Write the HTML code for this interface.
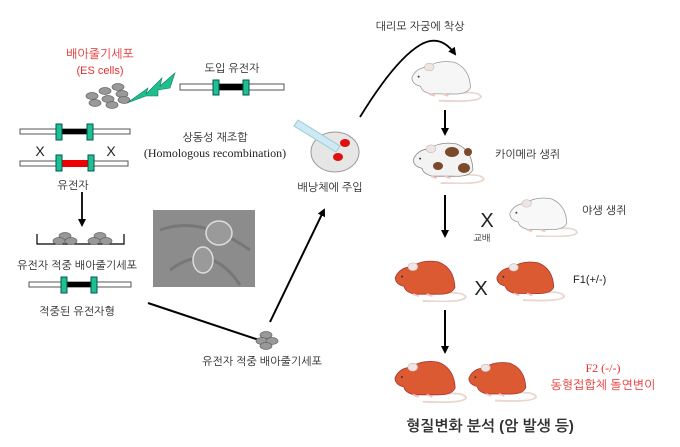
<!DOCTYPE html>
<html><head><meta charset="utf-8"><style>
html,body{margin:0;padding:0;background:#fff}
svg{display:block}
text{font-family:"Liberation Sans","NanumGothic","Noto Sans CJK KR",sans-serif;font-size:11px;fill:#222}
</style></head><body>
<svg width="680" height="447" viewBox="0 0 680 447" xmlns="http://www.w3.org/2000/svg">
<defs>
<marker id="ah" markerWidth="8" markerHeight="8" refX="6" refY="4" orient="auto" markerUnits="userSpaceOnUse"><path d="M0,0 L8,4 L0,8 Z" fill="#000"/></marker>
<g id="cl"><ellipse cx="0" cy="0" rx="6" ry="3.5" fill="#999" stroke="#666" stroke-width="0.7"/></g>
<symbol id="mouse" viewBox="0 0 75 45">
<path d="M40,37 Q72,33 74,40 Q72,46 30,44" fill="none" stroke="#e9d6cf" stroke-width="2"/>
<path d="M2,20 Q6,10 18,9 Q30,1 46,4 Q62,10 63,30 Q60,38 42,37 L22,37 Q12,35 11,29 Q2,27 2,20 Z" fill="var(--c)" stroke="var(--s)" stroke-width="0.8"/>
<ellipse cx="20" cy="9" rx="5" ry="4" fill="#f2e4e0" stroke="#bbb" stroke-width="0.6"/>
<circle cx="9" cy="19" r="1" fill="#333"/>
<path d="M20,37 l6,2 M34,37 l6,2" stroke="#f0c8c0" stroke-width="2"/>
</symbol>
</defs>

<text x="100" y="58" text-anchor="middle" style="fill:#e53030;font-size:12px">배아줄기세포</text>
<text x="100" y="74" text-anchor="middle" style="fill:#e53030">(ES cells)</text>
<g>
<use href="#cl" x="118" y="87"/><use href="#cl" x="105" y="91"/><use href="#cl" x="122" y="94"/>
<use href="#cl" x="92" y="96"/><use href="#cl" x="108" y="99"/><use href="#cl" x="124" y="100"/>
<use href="#cl" x="95" y="103"/><use href="#cl" x="112" y="105"/>
</g>
<path d="M127,103 L148,88 L146,94 L162,78 L160,86 L175,73 L170,88 L158,90 L158,96 L146,96 Z" fill="#1fbf8f" stroke="#0a7a5a" stroke-width="0.6"/>
<text x="232" y="72" text-anchor="middle">도입 유전자</text>
<rect x="180" y="84" width="104" height="6" fill="#fff" stroke="#555"/>
<rect x="217" y="84" width="28" height="6" fill="#000"/>
<rect x="213" y="80" width="6" height="15" fill="#1fbf8f" stroke="#055"/>
<rect x="243" y="80" width="6" height="15" fill="#1fbf8f" stroke="#055"/>

<rect x="20" y="129" width="110" height="5" fill="#fff" stroke="#555"/>
<rect x="60" y="129" width="30" height="5" fill="#000"/>
<rect x="56" y="124" width="6" height="16" fill="#1fbf8f" stroke="#055"/>
<rect x="87" y="124" width="6" height="16" fill="#1fbf8f" stroke="#055"/>
<text x="40" y="156" text-anchor="middle" style="font-size:14px">X</text>
<text x="111" y="156" text-anchor="middle" style="font-size:14px">X</text>
<rect x="20" y="161" width="108" height="5" fill="#fff" stroke="#555"/>
<rect x="60" y="160" width="30" height="7" fill="#e00"/>
<rect x="56" y="155" width="6" height="16" fill="#1fbf8f" stroke="#055"/>
<rect x="88" y="155" width="6" height="16" fill="#1fbf8f" stroke="#055"/>
<text x="73" y="189" text-anchor="middle">유전자</text>
<text x="215" y="141" text-anchor="middle">상동성 재조합</text>
<text x="215" y="157" text-anchor="middle" style="font-family:'Liberation Serif',serif;font-size:12px">(Homologous recombination)</text>

<line x1="82" y1="192" x2="82" y2="225" stroke="#000" stroke-width="1.8" marker-end="url(#ah)"/>
<path d="M37,234 V244 H124 V234" fill="none" stroke="#000" stroke-width="1.2"/>
<use href="#cl" x="65" y="236"/><use href="#cl" x="59" y="241"/><use href="#cl" x="71" y="241"/>
<use href="#cl" x="100" y="236"/><use href="#cl" x="94" y="241"/><use href="#cl" x="106" y="241"/>
<text x="77" y="269" text-anchor="middle">유전자 적중 배아줄기세포</text>
<rect x="29" y="282" width="102" height="5" fill="#fff" stroke="#555"/>
<rect x="65" y="282" width="28" height="5" fill="#000"/>
<rect x="61" y="277" width="6" height="16" fill="#1fbf8f" stroke="#055"/>
<rect x="91" y="277" width="6" height="16" fill="#1fbf8f" stroke="#055"/>
<text x="77" y="315" text-anchor="middle">적중된 유전자형</text>

<rect x="153" y="210" width="102" height="77" fill="#8c8c8c"/>
<path d="M160,230 Q200,215 250,250 M170,270 Q210,240 240,285" stroke="#777" fill="none" stroke-width="3"/>
<ellipse cx="219" cy="233" rx="13" ry="12" fill="#9a9a9a" stroke="#ddd" stroke-width="1.5"/>
<ellipse cx="203" cy="260" rx="10" ry="13" fill="#9a9a9a" stroke="#ddd" stroke-width="1.5"/>

<line x1="148" y1="303" x2="262" y2="341" stroke="#000" stroke-width="2"/>
<use href="#cl" x="266" y="335"/><use href="#cl" x="262" y="341"/><use href="#cl" x="272" y="341"/><use href="#cl" x="266" y="346"/>
<text x="262" y="365" text-anchor="middle">유전자 적중 배아줄기세포</text>
<line x1="270" y1="322" x2="324" y2="210" stroke="#000" stroke-width="2" marker-end="url(#ah)"/>

<ellipse cx="335" cy="152" rx="24" ry="20" fill="#e6e6e6" stroke="#999"/>
<path d="M298,120 L340,146 L336,152 L294,126 Z" fill="#cfe8f5" stroke="#9cc"/>
<ellipse cx="345" cy="143" rx="5" ry="4" fill="#d11"/>
<ellipse cx="338" cy="157" rx="5" ry="4" fill="#d11"/>
<text x="330" y="191" text-anchor="middle">배낭체에 주입</text>

<path d="M360,117 Q395,60 420,45 Q440,33 455,54" fill="none" stroke="#000" stroke-width="1.8" marker-end="url(#ah)"/>
<text x="420" y="30" text-anchor="middle">대리모 자궁에 착상</text>

<use href="#mouse" x="410" y="58" width="72" height="44" style="--c:#f6f6f6;--s:#999"/>
<line x1="445" y1="110" x2="445" y2="134" stroke="#000" stroke-width="2" marker-end="url(#ah)"/>
<use href="#mouse" x="410" y="140" width="76" height="44" style="--c:#f3f3f3;--s:#888"/>
<ellipse cx="452" cy="152" rx="7" ry="5" fill="#7a4a2a"/><ellipse cx="464" cy="168" rx="6" ry="5" fill="#7a4a2a"/><ellipse cx="438" cy="166" rx="5" ry="4" fill="#7a4a2a"/><ellipse cx="468" cy="152" rx="4" ry="4" fill="#7a4a2a"/>
<text x="495" y="158">카이메라 생쥐</text>
<line x1="445" y1="195" x2="445" y2="236" stroke="#000" stroke-width="2" marker-end="url(#ah)"/>
<text x="487" y="227" text-anchor="middle" style="font-size:20px">X</text>
<text x="482" y="241" text-anchor="middle" style="font-size:9px">교배</text>
<use href="#mouse" x="507" y="195" width="72" height="42" style="--c:#f8f8f8;--s:#999"/>
<text x="582" y="214">야생 생쥐</text>

<use href="#mouse" x="393" y="258" width="74" height="44" style="--c:#dc5a32;--s:#a33"/>
<text x="481" y="295" text-anchor="middle" style="font-size:20px">X</text>
<use href="#mouse" x="495" y="258" width="70" height="44" style="--c:#dc5a32;--s:#a33"/>
<text x="573" y="283">F1(+/-)</text>
<line x1="445" y1="310" x2="445" y2="352" stroke="#000" stroke-width="2" marker-end="url(#ah)"/>
<use href="#mouse" x="393" y="358" width="74" height="45" style="--c:#dc5a32;--s:#a33"/>
<use href="#mouse" x="467" y="358" width="70" height="45" style="--c:#dc5a32;--s:#a33"/>
<text x="603" y="372" text-anchor="middle" style="fill:#e53030;font-family:'Liberation Serif',serif;font-size:12px">F2 (-/-)</text>
<text x="603" y="389" text-anchor="middle" style="fill:#e53030;font-size:12px">동형접합체 돌연변이</text>
<text x="490" y="431" text-anchor="middle" style="font-size:15px;font-weight:bold;fill:#333">형질변화 분석 (암 발생 등)</text>
</svg>
</body></html>
